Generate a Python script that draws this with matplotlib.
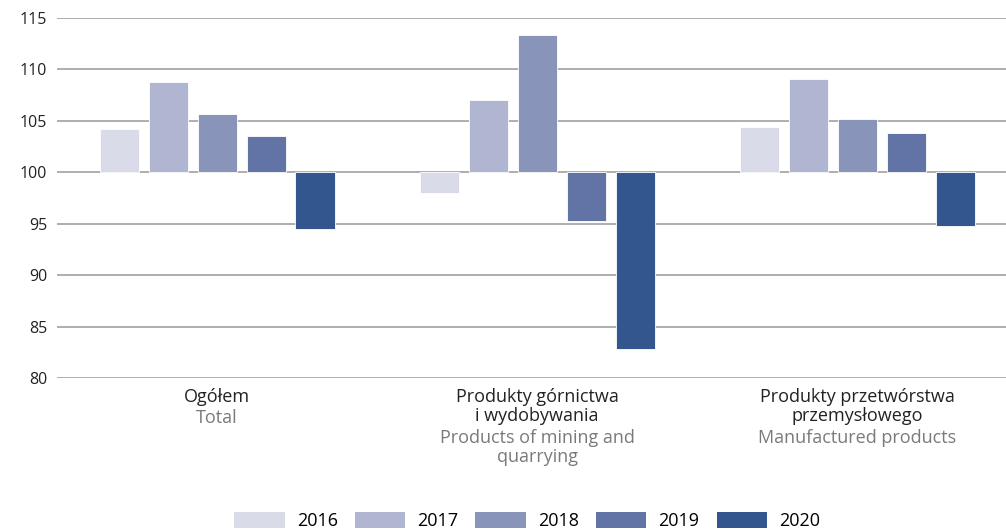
import numpy as np
import matplotlib.pyplot as plt
from matplotlib.patches import Patch

plt.rcParams['font.family'] = ['Open Sans', 'DejaVu Sans']

lata = ['2016', '2017', '2018', '2019', '2020']
kategorie_pl = ['Ogółem', 'Produkty górnictwa\ni wydobywania', 'Produkty przetwórstwa\nprzemysłowego']
kategorie_en = ['Total', 'Products of mining and\nquarrying', 'Manufactured products']

ogolem = [104.2, 108.8, 105.7, 103.5, 94.5]
gornictwo = [98.0, 107.0, 113.3, 95.3, 82.8]
przetworstwo = [104.4, 109.1, 105.2, 103.8, 94.8]

kolory = ['#d9dbe9', '#b0b5d2', '#8994bb', '#6274a5', '#34568e']

dane = np.array([ogolem, gornictwo, przetworstwo])

fig = plt.figure(figsize=(10.06, 5.29), dpi=100)
ax = fig.add_axes([0.0567, 0.2854, 0.9433, 0.6806])

x = np.arange(len(kategorie_pl))
szer = 0.122
krok = 0.153
for j in range(len(lata)):
    pos = x + (j - 2) * krok
    ax.bar(pos, dane[:, j] - 100, bottom=100, width=szer, color=kolory[j],
           edgecolor='white', linewidth=0.6, zorder=3)

ax.set_ylim(80, 115)
ax.set_yticks(np.arange(80, 116, 5))
ax.set_xlim(-0.5, 2.465)
ax.set_xticks([])
ax.grid(axis='y', color='#999999', linewidth=1.1, zorder=0)
for s in ax.spines.values():
    s.set_visible(False)
ax.tick_params(axis='y', length=0, pad=7, labelsize=11.5, labelcolor='#222222')

for i in range(len(x)):
    n = kategorie_pl[i].count('\n') + 1
    ax.annotate(kategorie_pl[i], xy=(x[i], 0), xycoords=('data', 'axes fraction'),
                xytext=(0, -10), textcoords='offset pixels', ha='center', va='top',
                fontsize=13, color='#222222', linespacing=1.1)
    ax.annotate(kategorie_en[i], xy=(x[i], 0), xycoords=('data', 'axes fraction'),
                xytext=(0, -10 - 20.5 * n), textcoords='offset pixels', ha='center', va='top',
                fontsize=13, color='#7a7a7a', linespacing=1.1)

uchwyty = [Patch(facecolor=kolory[j], label=lata[j]) for j in range(len(lata))]
fig.legend(handles=uchwyty, loc='center', bbox_to_anchor=(0.524, 0.015), ncol=5,
           frameon=False, fontsize=13, handlelength=2.8, handleheight=1.0,
           handletextpad=0.67, columnspacing=0.94, borderpad=0)

fig.savefig('out.png', dpi=100)
